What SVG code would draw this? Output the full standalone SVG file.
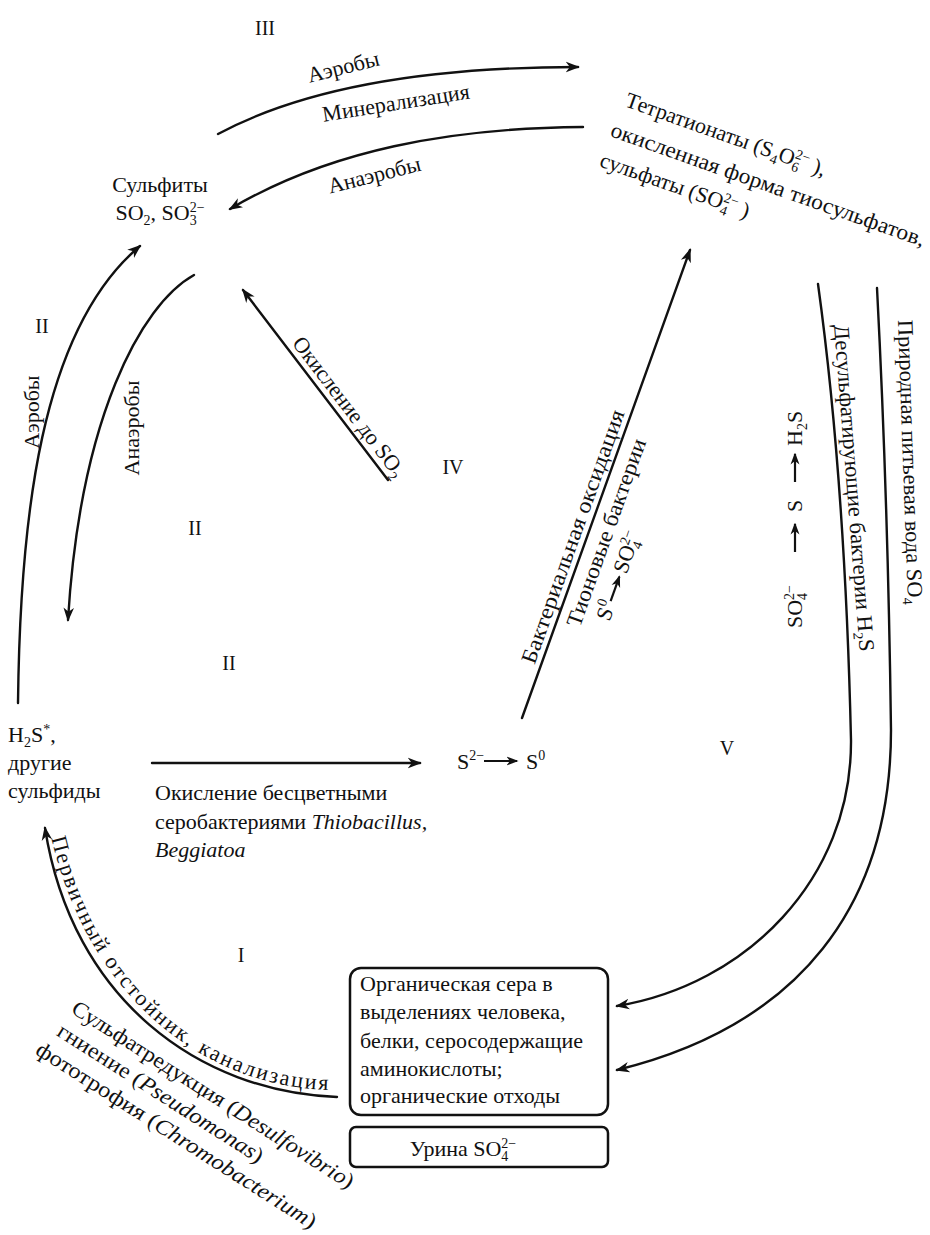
<svg xmlns="http://www.w3.org/2000/svg" width="930" height="1235" viewBox="0 0 930 1235" font-family="'Liberation Serif','Times New Roman',serif">
<defs>
<style>
.t{font-family:"Liberation Serif","Times New Roman",serif;font-size:22px;fill:#111}
.r{font-family:"Liberation Serif","Times New Roman",serif;font-size:20px;fill:#111}
.s{font-size:14px}
.i{font-style:italic}
.ls{letter-spacing:2.1px}
.ln{fill:none;stroke:#111;stroke-width:2.4;stroke-linecap:round}
.a{marker-end:url(#ah)}
.as{marker-end:url(#ahs)}
.thin{fill:none;stroke:#111;stroke-width:2.2}
.box{fill:#fff;stroke:#111;stroke-width:2.5}
</style>
<marker id="ah" viewBox="0 0 12 10" refX="10.5" refY="5" markerWidth="14" markerHeight="12" markerUnits="userSpaceOnUse" orient="auto">
<path d="M0,0.5 L12,5 L0,9.5 L3.5,5 Z" fill="#111"/>
</marker>
<marker id="ahs" viewBox="0 0 12 10" refX="10.5" refY="5" markerWidth="12" markerHeight="10" markerUnits="userSpaceOnUse" orient="auto">
<path d="M0,0.5 L12,5 L0,9.5 L3.5,5 Z" fill="#111"/>
</marker>
<!-- baseline for the sewer label, just inside the curved connector -->
<path id="p-sewer" d="M50,832 C 86,996 204,1090 337,1090"/>
</defs>
<rect width="930" height="1235" fill="#fff"/>

<!-- connectors -->
<g id="connectors">
<path class="ln a" d="M218,134 C 300,90 420,67 578,67"/>
<path class="ln a" d="M583,127 C 450,128 330,150 230,209"/>
<path class="ln a" d="M18,703 C 20,520 40,330 140,246"/>
<path class="ln a" d="M194,275 C 140,305 80,420 68,620"/>
<path class="ln a" d="M388,480 L 243,290"/>
<path class="ln a" d="M522,718 L 690,250"/>
<path class="ln a" d="M152,763 L 420,763"/>
<path class="ln a" d="M818,284 Q 845,480 851,740 C 852,880 745,985 617,1006"/>
<path class="ln a" d="M877,288 Q 888,500 891,730 C 891,905 800,1025 617,1070"/>
<path class="ln a" d="M337,1097 C 200,1092 72,1000 45,828"/>
</g>

<!-- cycle stage numerals -->
<g id="stages" class="r" text-anchor="middle">
<text x="265" y="35">III</text>
<text x="42" y="333">II</text>
<text x="195" y="535">II</text>
<text x="229" y="670">II</text>
<text x="453" y="474">IV</text>
<text x="727" y="755">V</text>
<text x="241" y="962">I</text>
</g>

<!-- sulfites -->
<g id="sulfites" class="t" text-anchor="middle">
<text x="160" y="192">Сульфиты</text>
<text x="160" y="220">SO<tspan class="s" dy="5">2</tspan><tspan dy="-5">, SO</tspan><tspan class="s" dy="5">3</tspan><tspan class="s" dx="-7" dy="-13">2−</tspan></text>
</g>

<!-- tetrathionates / sulfates -->
<g id="tetrathionates" class="t" transform="translate(624,106) rotate(19.5)">
<text x="0" y="0">Тетратионаты (S<tspan class="s" dy="5">4</tspan><tspan dy="-5">O</tspan><tspan class="s" dy="5">6</tspan><tspan class="s" dx="-7" dy="-13">2−</tspan><tspan dy="8"> ),</tspan></text>
<text x="-4" y="33" textLength="332" lengthAdjust="spacingAndGlyphs">окисленная форма тиосульфатов,</text>
<text x="-4" y="65">сульфаты (SO<tspan class="s" dy="5">4</tspan><tspan class="s" dx="-7" dy="-13">2−</tspan><tspan dy="8"> )</tspan></text>
</g>

<!-- sulfides -->
<g id="sulfides" class="t">
<text x="8" y="742">H<tspan class="s" dy="5">2</tspan><tspan dy="-5">S</tspan><tspan class="s" dy="-8">*</tspan><tspan dy="8">,</tspan></text>
<text x="8" y="770">другие</text>
<text x="8" y="798">сульфиды</text>
</g>

<!-- elemental sulfur -->
<g id="s-elemental" class="t">
<text x="457" y="769">S<tspan class="s" dy="-9">2−</tspan></text>
<path class="thin as" d="M484,761 L517,761"/>
<text x="526" y="769">S<tspan class="s" dy="-9">0</tspan></text>
</g>

<!-- organic sulfur -->
<g id="organic-sulfur">
<rect class="box" x="350" y="968" width="258" height="147" rx="11"/>
<g class="t">
<text x="360" y="991">Органическая сера в</text>
<text x="360" y="1019">выделениях человека,</text>
<text x="360" y="1048">белки, серосодержащие</text>
<text x="360" y="1076">аминокислоты;</text>
<text x="360" y="1103">органические отходы</text>
</g>
</g>

<!-- urine -->
<g id="urine">
<rect class="box" x="350" y="1127" width="258" height="40" rx="6"/>
<text class="t" x="463" y="1156" text-anchor="middle">Урина SO<tspan class="s" dy="5">4</tspan><tspan class="s" dx="-7" dy="-13">2−</tspan></text>
</g>

<!-- connector labels -->
<g id="labels" class="t">
<text transform="translate(345,74) rotate(-14)" text-anchor="middle">Аэробы</text>
<text transform="translate(397,110) rotate(-9)" text-anchor="middle">Минерализация</text>
<text transform="translate(376,182) rotate(-14)" text-anchor="middle">Анаэробы</text>

<text transform="translate(39,412) rotate(-90)" text-anchor="middle">Аэробы</text>
<text transform="translate(139,428) rotate(-90)" text-anchor="middle">Анаэробы</text>

<text transform="translate(243,290) rotate(52.6)" x="72" y="-6">Окисление до SO<tspan class="s" dy="5">2</tspan></text>

<g transform="translate(522,718) rotate(-70.3)">
<text x="54" y="-6" textLength="268" lengthAdjust="spacingAndGlyphs">Бактериальная оксидация</text>
<text x="104" y="24" textLength="198" lengthAdjust="spacingAndGlyphs">Тионовые бактерии</text>
<text x="120" y="50">S<tspan class="s" dy="-9">0</tspan></text>
<path class="thin as" d="M140,44 L166,44"/>
<text x="170" y="50">SO<tspan class="s" dy="5">4</tspan><tspan class="s" dx="-7" dy="-13">2−</tspan></text>
</g>

<g transform="translate(802,628) rotate(-90)">
<text x="0" y="0">SO<tspan class="s" dy="5">4</tspan><tspan class="s" dx="-7" dy="-13">2−</tspan></text>
<path class="thin as" d="M76,-7 L104,-7"/>
<text x="116" y="0">S</text>
<path class="thin as" d="M146,-7 L174,-7"/>
<text x="182" y="0">H<tspan class="s" dy="5">2</tspan><tspan dy="-5">S</tspan></text>
</g>

<text transform="translate(834,325) rotate(85.5)" x="0" y="0" textLength="328" lengthAdjust="spacingAndGlyphs">Десульфатирующие бактерии H<tspan class="s" dy="5">2</tspan><tspan dy="-5">S</tspan></text>
<text transform="translate(898,320) rotate(88)" x="0" y="0" textLength="285" lengthAdjust="spacingAndGlyphs">Природная питьевая вода SO<tspan class="s" dy="5">4</tspan></text>

<text x="155" y="800">Окисление бесцветными</text>
<text x="155" y="829">серобактериями <tspan class="i">Thiobacillus,</tspan></text>
<text x="155" y="857" class="t i">Beggiatoa</text>

<!-- curved sewer label, one word per run along the same baseline -->
<text class="ls"><textPath href="#p-sewer" startOffset="6">Первичный</textPath></text>
<text class="ls"><textPath href="#p-sewer" startOffset="141">отстойник,</textPath></text>
<text class="ls"><textPath href="#p-sewer" startOffset="272">канализация</textPath></text>

<g transform="translate(70,1012) rotate(32.5)">
<text x="0" y="0" textLength="330" lengthAdjust="spacingAndGlyphs">Сульфатредукция (<tspan class="i">Desulfovibrio</tspan>)</text>
<text x="0" y="27" textLength="240" lengthAdjust="spacingAndGlyphs">гниение (<tspan class="i">Pseudomonas</tspan>)</text>
<text x="-8" y="54" textLength="328" lengthAdjust="spacingAndGlyphs">фототрофия (<tspan class="i">Chromobacterium</tspan>)</text>
</g>
</g>
</svg>
